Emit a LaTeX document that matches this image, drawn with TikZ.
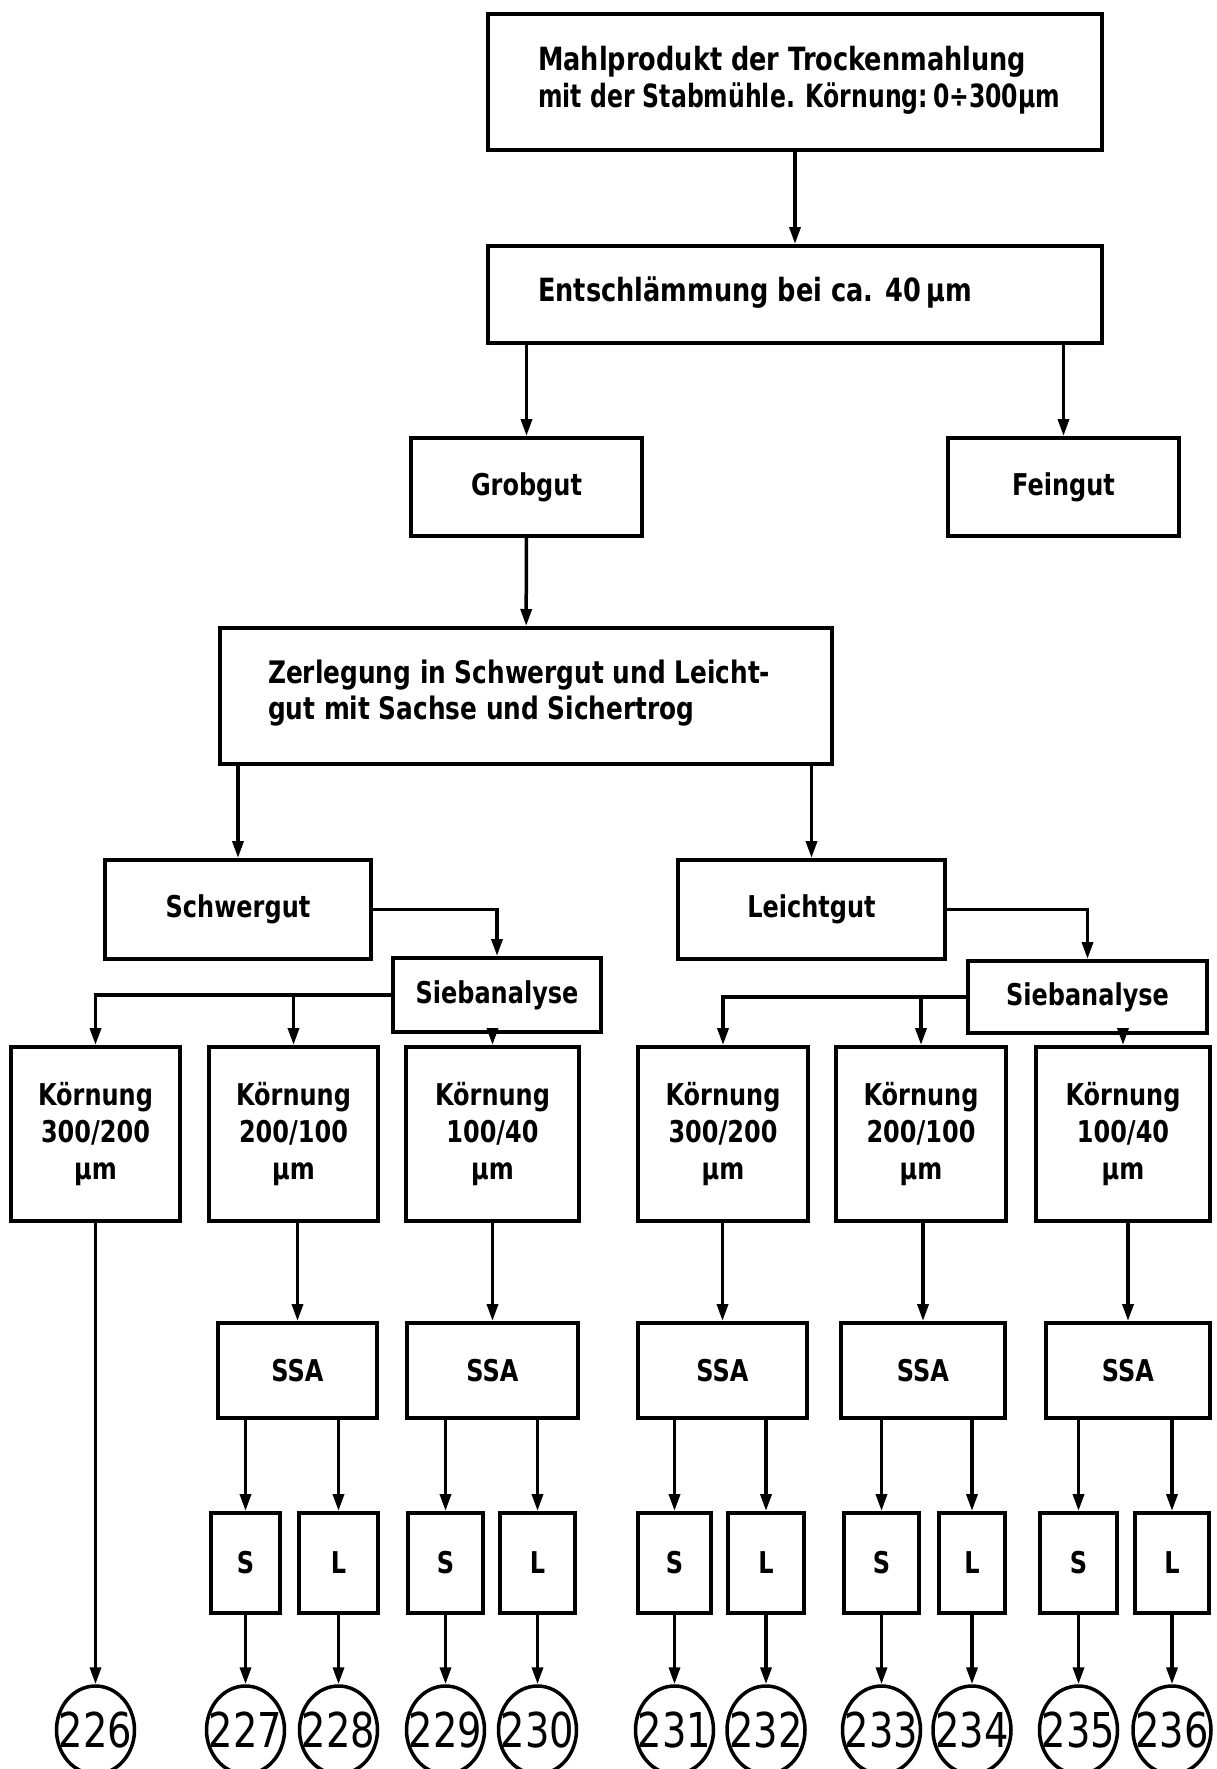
\documentclass[tikz,border=0pt]{standalone}
\usepackage{fontspec}
\setmainfont{DejaVu Sans}[FakeStretch=0.8]
\usetikzlibrary{arrows.meta,shapes.geometric}
\begin{document}
\begin{tikzpicture}[x=1pt,y=-1pt,
  box/.style={draw, line width=4pt, inner sep=0pt, align=center, font=\fontsize{30}{37}\selectfont\bfseries},
  txt/.style={anchor=west, inner sep=0pt, align=left, font=\fontsize{32}{37}\selectfont\bfseries},
  arr/.style={line width=3.5pt, -{Triangle[length=17pt,width=11pt]}},
  num/.style={draw, ellipse, line width=3.5pt, minimum width=78pt, minimum height=88pt, inner sep=0pt, font=\fontsize{48}{48}\selectfont}
]
\useasboundingbox (0,0) rectangle (1216,1769);

% top part
\node[box, minimum width=614pt, minimum height=136pt] (top) at (795,82) {};
\node[txt] (toptext) at (538,80) {Mahlprodukt der Trockenmahlung\\\scalebox{0.92}[1]{mit der Stabmühle. Körnung:\,0÷300µm}};
\node[box, minimum width=614pt, minimum height=97pt] (ent) at (795,294.5) {};
\node[txt] (enttext) at (538,293) {Entschlämmung bei ca. 40\,µm};
\node[box, minimum width=231pt, minimum height=98pt] (grob) at (526.5,487) {Grobgut};
\node[box, minimum width=231pt, minimum height=98pt] (fein) at (1063.5,487) {Feingut};
\node[box, minimum width=612pt, minimum height=136pt] (zer) at (526,696) {};
\node[txt, font=\fontsize{31}{36}\selectfont\bfseries] (zertext) at (268,693) {Zerlegung in Schwergut und Leicht-\\gut mit Sachse und Sichertrog};
\node[box, minimum width=266pt, minimum height=99pt] (schwer) at (238,909.5) {Schwergut};
\node[box, minimum width=267pt, minimum height=99pt] (leicht) at (811.5,909.5) {Leichtgut};
\node[box, minimum width=208pt, minimum height=74pt] (sieb1) at (497,995) {Siebanalyse};
\node[box, minimum width=239pt, minimum height=72pt] (sieb2) at (1087.5,997) {Siebanalyse};

% Koernung boxes
\node[box, minimum width=169pt, minimum height=174pt] (k1) at (95.5,1134) {Körnung\\300/200\\µm};
\node[box, minimum width=169pt, minimum height=174pt] (k2) at (293.5,1134) {Körnung\\200/100\\µm};
\node[box, minimum width=173pt, minimum height=174pt] (k3) at (492.5,1134) {Körnung\\100/40\\µm};
\node[box, minimum width=170pt, minimum height=174pt] (k4) at (723,1134) {Körnung\\300/200\\µm};
\node[box, minimum width=170pt, minimum height=174pt] (k5) at (921,1134) {Körnung\\200/100\\µm};
\node[box, minimum width=174pt, minimum height=174pt] (k6) at (1123,1134) {Körnung\\100/40\\µm};

% SSA boxes
\node[box, minimum width=159pt, minimum height=95pt] (ssa1) at (297.5,1370.5) {SSA};
\node[box, minimum width=171pt, minimum height=95pt] (ssa2) at (492.5,1370.5) {SSA};
\node[box, minimum width=169pt, minimum height=95pt] (ssa3) at (722.5,1370.5) {SSA};
\node[box, minimum width=164pt, minimum height=95pt] (ssa4) at (923,1370.5) {SSA};
\node[box, minimum width=164pt, minimum height=95pt] (ssa5) at (1128,1370.5) {SSA};

% S / L boxes
\node[box, minimum width=69pt, minimum height=100pt] (s1) at (245.5,1563) {S};
\node[box, minimum width=79pt, minimum height=100pt] (l1) at (338.5,1563) {L};
\node[box, minimum width=75pt, minimum height=100pt] (s2) at (445.5,1563) {S};
\node[box, minimum width=75pt, minimum height=100pt] (l2) at (537.5,1563) {L};
\node[box, minimum width=73pt, minimum height=100pt] (s3) at (674.5,1563) {S};
\node[box, minimum width=76pt, minimum height=100pt] (l3) at (766,1563) {L};
\node[box, minimum width=75pt, minimum height=100pt] (s4) at (881.5,1563) {S};
\node[box, minimum width=66pt, minimum height=100pt] (l4) at (972,1563) {L};
\node[box, minimum width=77pt, minimum height=100pt] (s5) at (1078.5,1563) {S};
\node[box, minimum width=74pt, minimum height=100pt] (l5) at (1172,1563) {L};

% numbered circles
\node[num] (c226) at (95.5,1730) {\makebox[0pt]{226}};
\node[num] (c227) at (245.5,1730) {\makebox[0pt]{227}};
\node[num] (c228) at (338.5,1730) {\makebox[0pt]{228}};
\node[num] (c229) at (445.5,1730) {\makebox[0pt]{229}};
\node[num] (c230) at (537.5,1730) {\makebox[0pt]{230}};
\node[num] (c231) at (674.5,1730) {\makebox[0pt]{231}};
\node[num] (c232) at (766,1730) {\makebox[0pt]{232}};
\node[num] (c233) at (881.5,1730) {\makebox[0pt]{233}};
\node[num] (c234) at (972,1730) {\makebox[0pt]{234}};
\node[num] (c235) at (1078.5,1730) {\makebox[0pt]{235}};
\node[num] (c236) at (1172,1730) {\makebox[0pt]{236}};

% connectors
\draw[arr] (top) -- (ent);
\draw[arr] (grob.north |- ent.south) -- (grob.north);
\draw[arr] (fein.north |- ent.south) -- (fein.north);
\draw[arr] (grob) -- (zer);
\draw[arr] (schwer.north |- zer.south) -- (schwer.north);
\draw[arr] (leicht.north |- zer.south) -- (leicht.north);
\draw[arr] (schwer.east) -| (sieb1.north);
\draw[arr] (leicht.east) -| (sieb2.north);

\draw[arr] (sieb1.west) -| (k1.north);
\draw[arr] (k2.north |- sieb1.west) -- (k2.north);
\draw[arr] (k3.north |- sieb1.south) -- (k3.north);
\draw[arr] (sieb2.west) -| (k4.north);
\draw[arr] (k5.north |- sieb2.west) -- (k5.north);
\draw[arr] (k6.north |- sieb2.south) -- (k6.north);

\draw[arr] (k1.south) -- (c226.north);
\foreach \k/\a in {k2/ssa1, k3/ssa2, k4/ssa3, k5/ssa4, k6/ssa5}{
  \draw[arr] (\a.north |- \k.south) -- (\a.north);
}
\foreach \a/\s/\l in {ssa1/s1/l1, ssa2/s2/l2, ssa3/s3/l3, ssa4/s4/l4, ssa5/s5/l5}{
  \draw[arr] (\s.north |- \a.south) -- (\s.north);
  \draw[arr] (\l.north |- \a.south) -- (\l.north);
}
\foreach \b/\c in {s1/c227, l1/c228, s2/c229, l2/c230, s3/c231, l3/c232, s4/c233, l4/c234, s5/c235, l5/c236}{
  \draw[arr] (\b.south) -- (\c.north);
}
\end{tikzpicture}
\end{document}
